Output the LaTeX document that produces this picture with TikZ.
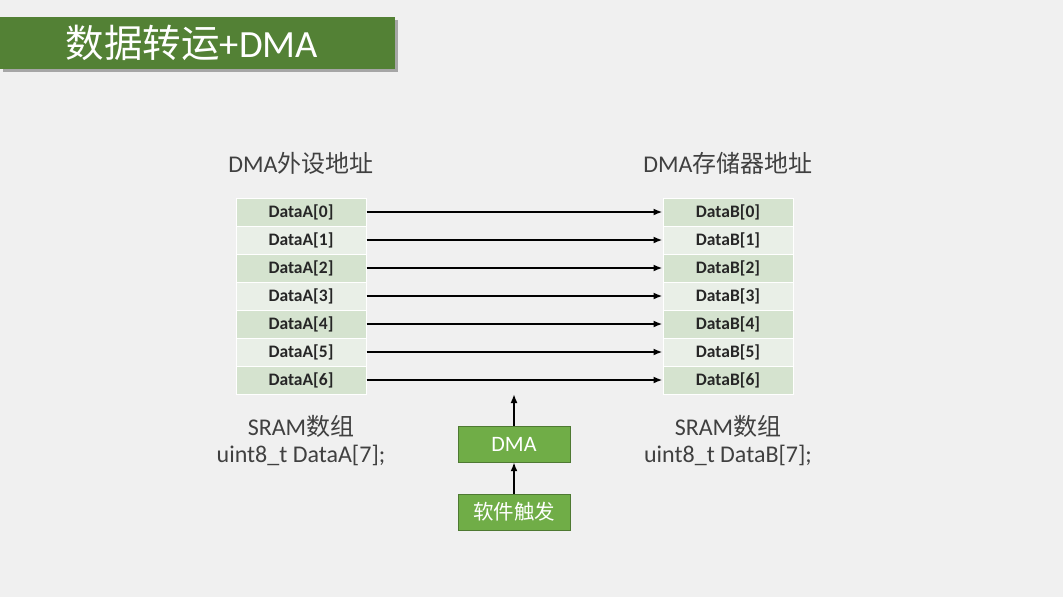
\documentclass[tikz,border=0pt]{standalone}
\usepackage{fontspec}
\setmainfont{Carlito}
\newfontfamily\cjk{Noto Sans CJK SC}
\usetikzlibrary{arrows.meta,shadows}
\definecolor{bg}{HTML}{F0F0F0}
\definecolor{titlegreen}{HTML}{538135}
\definecolor{boxgreen}{HTML}{70AD47}
\definecolor{rowdark}{HTML}{D5E3CF}
\definecolor{rowlight}{HTML}{E9EFE7}
\definecolor{txt}{HTML}{404040}
\tikzset{
  x=1pt,y=-1pt,
  cell/.style={draw=white,line width=1pt,minimum width=130pt,minimum height=28pt,inner sep=0pt,font=\fontsize{17.5}{17.5}\selectfont\bfseries,text=black!85},
  dk/.style={cell,fill=rowdark},
  lt/.style={cell,fill=rowlight},
  gbox/.style={draw=boxgreen!70!black,line width=0.4pt,fill=boxgreen,minimum width=112pt,minimum height=36pt,inner sep=0pt,text=white,font=\fontsize{22}{22}\selectfont},
  lbl/.style={text=txt,font=\fontsize{24}{27}\selectfont,align=center,inner sep=0pt},
  arr/.style={-{Latex[length=9pt,width=7pt]},line width=1.8pt,black},
}
\begin{document}
\begin{tikzpicture}
\fill[bg] (0,0) rectangle (1063,597);
\useasboundingbox (0,0) rectangle (1063,597);
\fill[black!35] (3,20) rectangle (398,72);
\node[fill=titlegreen,minimum width=395pt,minimum height=52pt,inner sep=0pt,anchor=north west] (title) at (0,17) {};
\node[text=white,font=\fontsize{38.5}{38.5}\selectfont,inner sep=0pt] (titletxt) at (192,43) {\cjk 数据转运\fontspec{Carlito}+DMA};
\node[lbl] (la) at (301,163) {DMA{\cjk 外设地址}};
\node[lbl] (lb) at (728,163) {DMA{\cjk 存储器地址}};
\foreach \i in {0,...,6} {
  \pgfmathsetmacro{\yy}{212+28*\i}
  \ifodd\i \def\st{lt}\else\def\st{dk}\fi
  \node[\st] (a\i) at (301,\yy) {DataA[\i]};
  \node[\st] (b\i) at (728,\yy) {DataB[\i]};
  \draw[arr] (a\i.east) -- (b\i.west);
}
\node[lbl] (sa) at (301,441) {SRAM{\cjk 数组}\\uint8\_t DataA[7];};
\node[lbl] (sb) at (728,441) {SRAM{\cjk 数组}\\uint8\_t DataB[7];};
\node[gbox] (dma) at (514,444) {DMA};
\node[gbox] (trig) at (514,512) {\fontsize{20.5}{20.5}\selectfont\cjk 软件触发};
\coordinate (top) at (514,394);
\draw[arr] (dma.north) -- (top);
\draw[arr] (trig.north) -- (dma.south);
\end{tikzpicture}
\end{document}
